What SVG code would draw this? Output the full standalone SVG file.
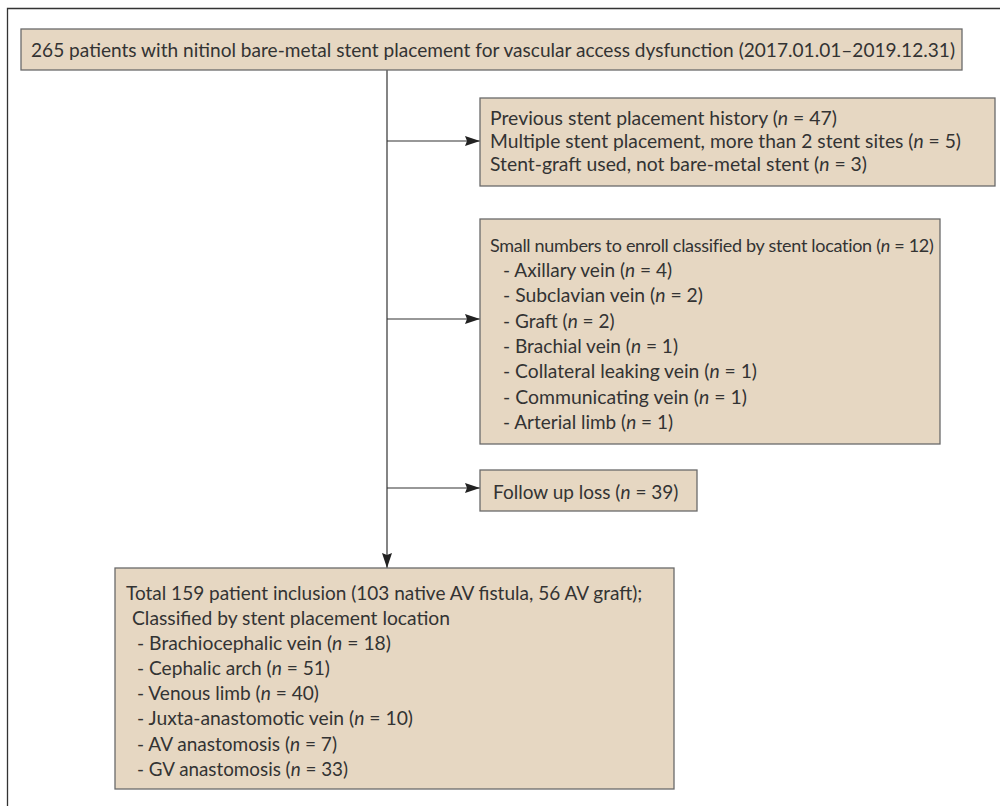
<svg xmlns="http://www.w3.org/2000/svg" width="1000" height="806" viewBox="0 0 1000 806">
<defs>
<marker id="ah" viewBox="0 0 15 10" refX="15" refY="5" markerWidth="15" markerHeight="10" markerUnits="userSpaceOnUse" orient="auto">
<path d="M0,0 L15,5 L0,10 L2,5 Z" fill="#222"/>
</marker>
<style>
.box{fill:#e6d7c2;stroke:#6a6a6a;stroke-width:1.3}
.t{font-family:Lato,"Liberation Sans",sans-serif;font-size:19px;fill:#333}
.ln{stroke:#333;stroke-width:1.2;fill:none}
.i{font-style:italic}
</style>
</defs>
<rect width="1000" height="806" fill="#fff"/>
<path d="M7.5,806 V8.5 H1000" stroke="#333" stroke-width="1.3" fill="none"/>
<g id="connectors">
<line class="ln" x1="387" y1="70" x2="387" y2="568" marker-end="url(#ah)"/>
<line class="ln" x1="387" y1="141" x2="480" y2="141" marker-end="url(#ah)"/>
<line class="ln" x1="387" y1="319" x2="480" y2="319" marker-end="url(#ah)"/>
<line class="ln" x1="387" y1="488" x2="480" y2="488" marker-end="url(#ah)"/>
</g>
<g id="top">
<rect class="box" x="21" y="29" width="941" height="41"/>
<text class="t" x="31" y="57" textLength="924" lengthAdjust="spacingAndGlyphs">265 patients with nitinol bare-metal stent placement for vascular access dysfunction (2017.01.01–2019.12.31)</text>
</g>
<g id="excl1">
<rect class="box" x="480" y="98" width="515" height="88"/>
<text class="t" x="490" y="125" textLength="347" lengthAdjust="spacingAndGlyphs">Previous stent placement history (<tspan class="i">n</tspan> = 47)</text>
<text class="t" x="490" y="148" textLength="471" lengthAdjust="spacingAndGlyphs">Multiple stent placement, more than 2 stent sites (<tspan class="i">n</tspan> = 5)</text>
<text class="t" x="490" y="171" textLength="377" lengthAdjust="spacingAndGlyphs">Stent-graft used, not bare-metal stent (<tspan class="i">n</tspan> = 3)</text>
</g>
<g id="excl2">
<rect class="box" x="480" y="219" width="460" height="225"/>
<text class="t" x="490" y="252" style="font-size:18px;letter-spacing:-0.3px">Small numbers to enroll classified by stent location (<tspan class="i">n</tspan> = 12)</text>
<text class="t" x="503" y="277" textLength="169" lengthAdjust="spacingAndGlyphs">- Axillary vein (<tspan class="i">n</tspan> = 4)</text>
<text class="t" x="503" y="302" textLength="200" lengthAdjust="spacingAndGlyphs">- Subclavian vein (<tspan class="i">n</tspan> = 2)</text>
<text class="t" x="503" y="328">- Graft (<tspan class="i">n</tspan> = 2)</text>
<text class="t" x="503" y="353" textLength="175" lengthAdjust="spacingAndGlyphs">- Brachial vein (<tspan class="i">n</tspan> = 1)</text>
<text class="t" x="503" y="378" textLength="254" lengthAdjust="spacingAndGlyphs">- Collateral leaking vein (<tspan class="i">n</tspan> = 1)</text>
<text class="t" x="503" y="404" textLength="244" lengthAdjust="spacingAndGlyphs">- Communicating vein (<tspan class="i">n</tspan> = 1)</text>
<text class="t" x="503" y="429" textLength="170" lengthAdjust="spacingAndGlyphs">- Arterial limb (<tspan class="i">n</tspan> = 1)</text>
</g>
<g id="excl3">
<rect class="box" x="480" y="470" width="217" height="41"/>
<text class="t" x="493" y="499">Follow up loss (<tspan class="i">n</tspan> = 39)</text>
</g>
<g id="incl">
<rect class="box" x="115" y="568" width="559" height="221"/>
<text class="t" x="126" y="600">Total 159 patient inclusion (103 native AV fistula, 56 AV graft);</text>
<text class="t" x="132" y="625" textLength="318" lengthAdjust="spacingAndGlyphs">Classified by stent placement location</text>
<text class="t" x="137" y="650" textLength="254" lengthAdjust="spacingAndGlyphs">- Brachiocephalic vein (<tspan class="i">n</tspan> = 18)</text>
<text class="t" x="137" y="675" textLength="193" lengthAdjust="spacingAndGlyphs">- Cephalic arch (<tspan class="i">n</tspan> = 51)</text>
<text class="t" x="137" y="700" textLength="182" lengthAdjust="spacingAndGlyphs">- Venous limb (<tspan class="i">n</tspan> = 40)</text>
<text class="t" x="137" y="725" textLength="276" lengthAdjust="spacingAndGlyphs">- Juxta-anastomotic vein (<tspan class="i">n</tspan> = 10)</text>
<text class="t" x="137" y="751" textLength="200" lengthAdjust="spacingAndGlyphs">- AV anastomosis (<tspan class="i">n</tspan> = 7)</text>
<text class="t" x="137" y="776" textLength="211" lengthAdjust="spacingAndGlyphs">- GV anastomosis (<tspan class="i">n</tspan> = 33)</text>
</g>
</svg>
